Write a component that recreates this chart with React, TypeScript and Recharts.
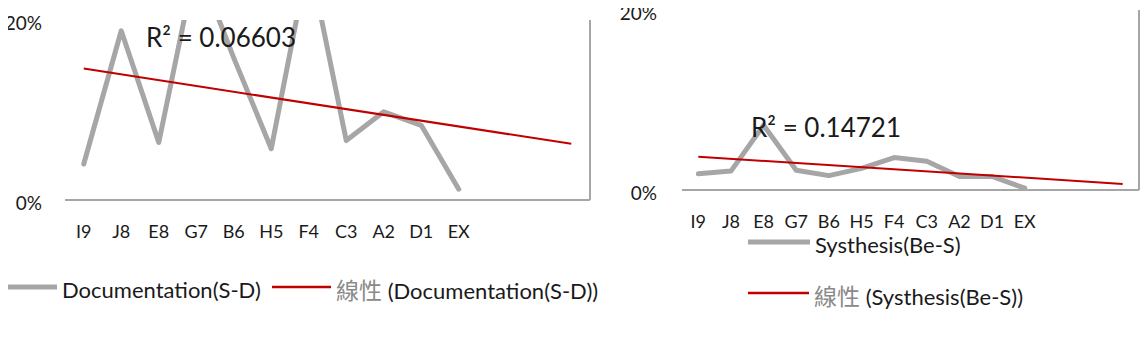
import { LineChart, Line, XAxis, YAxis, CartesianGrid } from 'recharts'

const categories = ['I9', 'J8', 'E8', 'G7', 'B6', 'H5', 'F4', 'C3', 'A2', 'D1', 'EX']
// the trendline's forward forecast adds 3 unlabeled slots to the category axis
const forecastSlots = ['', '', '']
const yTicks = [0, 20]

// percent values (G7 and F4 run past the 20% axis max)
const documentation = [4.0, 18.8, 6.4, 26.5, 15.8, 5.7, 27.0, 6.6, 9.8, 8.3, 1.2]
const documentationTrend = [14.6, 6.24] // first slot, last forecast slot
const synthesis = [1.8, 2.1, 7.2, 2.2, 1.6, 2.4, 3.6, 3.2, 1.5, 1.5, 0.2]
const synthesisTrend = [3.7, 0.67]

const GRAY = '#a6a6a6'
const RED = '#c00000'
const INK = '#1a1a1a'
const FONT = 'Lato, "Noto Sans", sans-serif'
const CJK = '"Noto Sans CJK TC", "Noto Sans CJK SC", sans-serif'

function buildRows(values: number[], trend: number[]) {
  const cats = [...categories, ...forecastSlots]
  const last = cats.length - 1
  return cats.map((cat, i) => ({
    cat,
    value: i < values.length ? values[i] : null,
    trend: i === 0 ? trend[0] : i === last ? trend[1] : null,
  }))
}

// Excel draws value labels a few px below the gridline they belong to
const renderYTick = (p: any) => (
  <text x={p.x} y={p.y + 3} dy="0.35em" textAnchor="end" fill={INK} fontSize={19} fontFamily={FONT}>
    {`${p.payload.value}%`}
  </text>
)

interface PanelProps {
  rows: ReturnType<typeof buildRows>
  width: number
  yAxisWidth: number
  top: number
  bottom: number
  right: number
  pad: number
  labelGap: number
}

function Panel({ rows, width, yAxisWidth, top, bottom, right, pad, labelGap }: PanelProps) {
  return (
    <LineChart width={width} height={342} data={rows} margin={{ top, right, left: 0, bottom: 0 }}>
      {/* right-hand plot border */}
      <CartesianGrid
        horizontal={false}
        verticalCoordinatesGenerator={({ offset }: any) => [offset.left + offset.width]}
        stroke={GRAY}
        strokeWidth={2}
        strokeDasharray="0"
      />
      <XAxis
        dataKey="cat"
        interval={0}
        padding={{ left: pad, right: pad }}
        height={342 - bottom}
        axisLine={{ stroke: GRAY, strokeWidth: 2 }}
        tickLine={false}
        tickSize={0}
        tickMargin={25}
        tick={{ fill: INK, fontSize: 18, fontFamily: FONT }}
      />
      <YAxis
        width={yAxisWidth}
        domain={[0, 20]}
        ticks={yTicks}
        allowDataOverflow
        axisLine={false}
        tickLine={false}
        tickSize={0}
        tickMargin={labelGap}
        tick={renderYTick}
      />
      <Line
        dataKey="value"
        stroke={GRAY}
        strokeWidth={5}
        strokeLinecap="round"
        strokeLinejoin="round"
        dot={false}
        isAnimationActive={false}
      />
      <Line dataKey="trend" stroke={RED} strokeWidth={2} dot={false} connectNulls isAnimationActive={false} />
    </LineChart>
  )
}

interface LegendRowProps {
  x: number
  y: number
  sample: number
  color: string
  thick: number
  label: string
  cjk?: string
}

function LegendRow({ x, y, sample, color, thick, label, cjk }: LegendRowProps) {
  return (
    <div style={{ position: 'absolute', left: x, top: y - 15, height: 30, display: 'flex', alignItems: 'center', whiteSpace: 'nowrap' }}>
      <svg width={sample} height={30} style={{ marginTop: -6, flex: 'none' }}>
        <line x1={0} x2={sample} y1={15} y2={15} stroke={color} strokeWidth={thick} />
      </svg>
      <span style={{ marginLeft: 5, fontSize: 22, color: INK, fontFamily: FONT, lineHeight: '30px' }}>
        {cjk && <span style={{ fontFamily: CJK, color: '#8a8a8a', fontSize: 23 }}>{cjk}</span>}
        {label}
      </span>
    </div>
  )
}

export default function App() {
  const docRows = buildRows(documentation, documentationTrend)
  const synRows = buildRows(synthesis, synthesisTrend)
  const r2Style = { position: 'absolute' as const, fontSize: 26, fontFamily: FONT, color: INK, lineHeight: '30px' }
  return (
    <div style={{ position: 'relative', width: 1148, height: 342, margin: -8, overflow: 'hidden', background: '#fff' }}>
      <div style={{ position: 'absolute', left: 0, top: 0 }}>
        <Panel rows={docRows} width={600} yAxisWidth={65} top={20} bottom={200} right={10} pad={18.75} labelGap={23} />
      </div>
      <div style={{ position: 'absolute', left: 590, top: 0 }}>
        <Panel rows={synRows} width={558} yAxisWidth={92} top={10} bottom={190} right={9} pad={16.3} labelGap={25} />
      </div>
      <div style={{ ...r2Style, left: 146, top: 22 }}>R² = 0.06603</div>
      <div style={{ ...r2Style, left: 751, top: 112 }}>R² = 0.14721</div>

      <LegendRow x={-20} y={290} sample={77} color={GRAY} thick={5} label="Documentation(S-D)" />
      <LegendRow x={272} y={290} sample={59} color={RED} thick={2.5} cjk="線性" label=" (Documentation(S-D))" />
      <LegendRow x={748} y={245} sample={62} color={GRAY} thick={5} label="Systhesis(Be-S)" />
      <LegendRow x={748} y={296} sample={61} color={RED} thick={2.5} cjk="線性" label=" (Systhesis(Be-S))" />
    </div>
  )
}
